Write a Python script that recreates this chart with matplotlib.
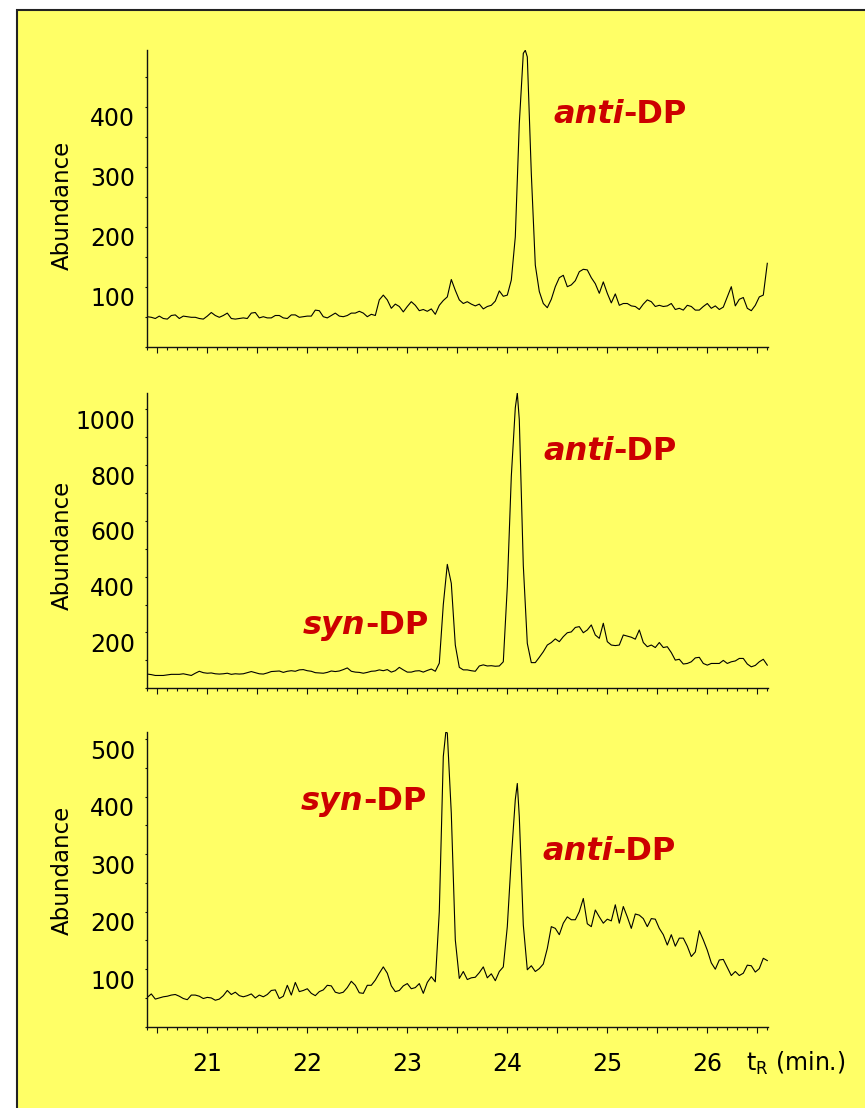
import numpy as np
import matplotlib
matplotlib.use("Agg")
import matplotlib.pyplot as plt
from matplotlib.patches import Rectangle
from matplotlib.ticker import FixedLocator, MultipleLocator
from matplotlib.transforms import ScaledTranslation

# ---------------- data ----------------
t_start = 20.40          # min, first sample
t_step = 0.04            # min, sampling interval

top_abund = [
    50, 49, 47, 51, 47, 46, 52, 53, 47, 51,
    50, 49, 49, 47, 46, 51, 57, 52, 49, 52,
    56, 47, 46, 47, 48, 47, 56, 57, 48, 50,
    48, 48, 52, 52, 48, 47, 53, 53, 49, 50,
    51, 51, 61, 60, 50, 48, 52, 56, 51, 50,
    52, 56, 56, 59, 56, 50, 54, 52, 78, 86,
    78, 64, 71, 67, 58, 67, 75, 69, 60, 62,
    59, 63, 54, 69, 77, 83, 112, 94, 78, 72,
    75, 71, 68, 71, 63, 67, 69, 76, 93, 84,
    86, 111, 183, 372, 489, 483, 289, 136, 92, 72,
    65, 79, 100, 115, 119, 100, 103, 110, 125, 129,
    128, 115, 105, 89, 108, 89, 73, 88, 69, 72,
    72, 68, 67, 62, 71, 78, 75, 67, 69, 67,
    68, 72, 62, 64, 61, 69, 67, 61, 61, 67,
    72, 64, 68, 62, 66, 83, 100, 68, 79, 82,
    64, 60, 69, 83, 86, 139,
]
top_apex_t = [24.18]
top_apex_v = [494]

mid_abund = [
    51, 49, 46, 46, 46, 48, 50, 50, 50, 52,
    49, 46, 54, 61, 56, 54, 55, 52, 51, 52,
    54, 50, 52, 51, 52, 56, 60, 56, 52, 51,
    55, 60, 61, 62, 57, 61, 63, 61, 66, 67,
    63, 61, 56, 55, 54, 57, 62, 60, 62, 67,
    73, 61, 58, 57, 54, 57, 61, 62, 66, 63,
    67, 58, 63, 75, 66, 58, 58, 62, 63, 58,
    64, 69, 61, 90, 300, 444, 376, 155, 75, 66,
    66, 63, 61, 80, 84, 80, 81, 79, 80, 95,
    364, 759, 1005, 962, 440, 161, 92, 92, 111, 131,
    155, 164, 177, 167, 185, 199, 202, 218, 221, 199,
    209, 227, 191, 179, 233, 167, 155, 153, 155, 191,
    187, 183, 176, 209, 164, 149, 155, 146, 164, 146,
    149, 128, 101, 104, 87, 89, 95, 109, 111, 89,
    83, 89, 89, 89, 100, 89, 95, 98, 107, 107,
    87, 77, 82, 95, 104, 83,
]
mid_apex_t = [24.10]
mid_apex_v = [1058]

bot_abund = [
    51, 57, 48, 50, 52, 53, 55, 56, 53, 49,
    47, 55, 55, 53, 49, 51, 50, 46, 48, 54,
    63, 56, 60, 54, 52, 54, 57, 50, 55, 52,
    56, 63, 64, 49, 53, 72, 55, 77, 61, 63,
    66, 58, 54, 61, 64, 72, 71, 60, 58, 60,
    68, 79, 72, 59, 58, 72, 72, 81, 93, 104,
    93, 71, 61, 63, 71, 75, 66, 68, 75, 58,
    77, 87, 78, 200, 470, 511, 371, 151, 84, 96,
    82, 85, 86, 94, 104, 85, 92, 80, 96, 104,
    174, 293, 395, 365, 177, 99, 106, 96, 101, 109,
    136, 174, 171, 160, 180, 191, 186, 186, 200, 223,
    179, 174, 203, 191, 180, 187, 184, 212, 180, 209,
    191, 171, 196, 194, 188, 174, 188, 187, 171, 160,
    142, 160, 140, 154, 154, 140, 122, 130, 167, 151,
    133, 111, 100, 116, 117, 103, 89, 96, 89, 93,
    107, 106, 95, 101, 119, 115,
]
bot_apex_t = [23.385, 24.10]
bot_apex_v = [512, 423]

top_yticks = [100, 200, 300, 400]
mid_yticks = [200, 400, 600, 800, 1000]
bot_yticks = [100, 200, 300, 400, 500]
x_labels = ["21", "22", "23", "24", "25", "26"]
x_label_pos = [21, 22, 23, 24, 25, 26]

# ---------------- figure ----------------
W, H, DPI = 865, 1108, 100
YELLOW = "#FFFF66"
RED = "#CC0000"
FONT = "DejaVu Sans"
plt.rcParams["font.family"] = [FONT]
plt.rcParams["mathtext.fontset"] = "dejavusans"

fig = plt.figure(figsize=(W / DPI, H / DPI), dpi=DPI, facecolor="white")
fig.add_artist(Rectangle((17 / W, -0.05), 1.2, 1 - 10 / H + 0.05,
                         transform=fig.transFigure, facecolor=YELLOW,
                         edgecolor="#222222", linewidth=1.5, zorder=-10))


def make_trace(abund, apex_t, apex_v):
    grid = t_start + t_step * np.arange(len(abund))
    t = np.concatenate([grid, np.asarray(apex_t, float)])
    v = np.concatenate([np.asarray(abund, float), np.asarray(apex_v, float)])
    order = np.argsort(t)
    return t[order], v[order]


panels = [
    # abund, apex_t, apex_v, ytop, yminor, yticks, top_px, bottom_px, ylabel_y
    (top_abund, top_apex_t, top_apex_v, 494.5, 50, top_yticks, 50, 346.7, 205),
    (mid_abund, mid_apex_t, mid_apex_v, 1058, 100, mid_yticks, 393, 688.3, 545),
    (bot_abund, bot_apex_t, bot_apex_v, 512.5, 50, bot_yticks, 732, 1026.7, 870),
]

left_px, right_px = 147.3, 768.0
em_px = 17 * DPI / 72.0
axes = []
for i, (ab, at, av, ytop, ymin_step, yticks, top_px, bot_px, ylab_y) in enumerate(panels):
    ax = fig.add_axes([left_px / W, 1 - bot_px / H,
                       (right_px - left_px) / W, (bot_px - top_px) / H])
    ax.set_facecolor("none")
    t, v = make_trace(ab, at, av)
    ax.plot(t, v, color="black", lw=0.8, solid_joinstyle="round")
    ax.set_xlim(20.40, 26.607)
    ax.set_ylim(0, ytop)
    for s in ("top", "right"):
        ax.spines[s].set_visible(False)
    for s in ("left", "bottom"):
        ax.spines[s].set_linewidth(1.0)
        ax.spines[s].set_color("#111111")

    halves = np.arange(20.5, 26.51, 0.5)
    ax.xaxis.set_major_locator(FixedLocator(halves))
    ax.xaxis.set_minor_locator(MultipleLocator(0.1))
    ax.tick_params(axis="x", which="major", length=4.3, width=0.8,
                   direction="out", color="#111111")
    ax.tick_params(axis="x", which="minor", length=2.3, width=0.8,
                   direction="out", color="#111111")
    if i == 2:
        labs = []
        for h in halves:
            if float(h).is_integer() and int(h) in x_label_pos:
                labs.append(x_labels[x_label_pos.index(int(h))])
            else:
                labs.append("")
        ax.set_xticklabels(labs, fontsize=17)
        ax.tick_params(axis="x", which="major", pad=14)
    else:
        ax.tick_params(axis="x", labelbottom=False)

    ax.yaxis.set_major_locator(MultipleLocator(ymin_step))
    ax.tick_params(axis="y", which="major", length=1.5, width=0.8,
                   direction="out", labelleft=False, color="#111111")

    off = ScaledTranslation(-12 / DPI, -(11 + 0.365 * em_px) / DPI, fig.dpi_scale_trans)
    for yv in yticks:
        ax.text(0, yv, str(yv), transform=ax.get_yaxis_transform() + off,
                ha="right", va="baseline", fontsize=17, color="black")

    fig.text(62 / W, 1 - ylab_y / H, "Abundance", rotation=90,
             ha="center", va="center", fontsize=16.5, color="black")
    axes.append(ax)

fig.text(746 / W, 1 - 1071 / H, r"t$_{\mathrm{R}}$ (min.)", ha="left",
         va="baseline", fontsize=17, color="black")

renderer = fig.canvas.get_renderer()


def red_label(x_px, base_px, ital, plain):
    t1 = fig.text(x_px / W, 1 - base_px / H, ital, fontsize=23,
                  fontweight="bold", style="italic", color=RED,
                  ha="left", va="baseline")
    bb = t1.get_window_extent(renderer=renderer)
    fig.text(bb.x1 / W, 1 - base_px / H, plain, fontsize=23,
             fontweight="bold", color=RED, ha="left", va="baseline")


red_label(553, 123, "anti", "-DP")
red_label(543, 460, "anti", "-DP")
red_label(303, 634, "syn", "-DP")
red_label(301, 810, "syn", "-DP")
red_label(542, 860, "anti", "-DP")

fig.savefig("out.png", dpi=DPI, facecolor="white")
